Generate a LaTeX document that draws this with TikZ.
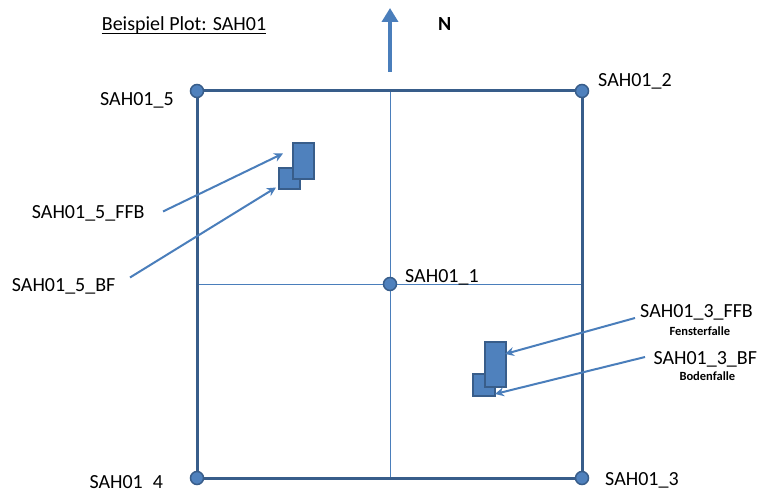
\documentclass[tikz,border=0pt]{standalone}
\usepackage{fontspec}
\setmainfont{Carlito}
\usetikzlibrary{arrows.meta}
\definecolor{ofblue}{HTML}{4F81BD}
\definecolor{ofdark}{HTML}{385D8A}
\definecolor{ofline}{HTML}{4A7EBB}
\begin{document}
\begin{tikzpicture}[x=1pt,y=-1pt,
 lbl/.style={anchor=base west,inner sep=0pt,font=\fontsize{20}{24}\selectfont},
 smalllbl/.style={anchor=base west,inner sep=0pt,font=\bfseries\fontsize{12.5}{15}\selectfont},
 frame/.style={draw=ofdark,line width=3pt},
 cross/.style={draw=ofline,line width=1pt},
 dot/.style={circle,fill=ofblue,draw=ofdark,line width=1.5pt,minimum size=13pt,inner sep=0pt},
 win/.style={fill=ofblue,draw=ofdark,line width=2pt,inner sep=0pt},
 pointer/.style={draw=ofline,line width=2pt,-{Stealth[length=9pt,width=9pt,inset=3pt]}},
 north/.style={draw=ofline,line width=4pt,-{Triangle[length=14pt,width=16pt]}}]
\useasboundingbox[fill=white] (0,0) rectangle (762,494);

% title and north
\node[lbl] (title) at (101.7,30.7) {Beispiel Plot: SAH01};
\draw[line width=1.5pt] ([yshift=-2.8pt]title.base west) -- ([yshift=-2.8pt]title.base east);
\coordinate (nfoot) at (390,72);
\coordinate (ntip) at (390,8);
\draw[north] (nfoot) -- (ntip);
\node[lbl,font=\bfseries\fontsize{20}{24}\selectfont] (n) at (438,30.7) {N};

% frame corners
\coordinate (p5) at (197,91);
\coordinate (p2) at (582,91);
\coordinate (p3) at (582,478);
\coordinate (p4) at (197,478);
\coordinate (p1) at (390,284);
\coordinate (mt) at (390,91);
\coordinate (mb) at (390,478);
\coordinate (ml) at (197,284);
\coordinate (mr) at (582,284);

\draw[cross] (mt) -- (mb);
\draw[cross] (ml) -- (mr);
\draw[frame] (p5) -- (p2) -- (p3) -- (p4) -- cycle;

\node[dot] (d5) at (p5) {};
\node[dot] (d2) at (p2) {};
\node[dot] (d3) at (p3) {};
\node[dot] (d4) at (p4) {};
\node[dot] (d1) at (p1) {};

% corner labels
\node[lbl] (l5) at (100,106) {SAH01\_5};
\node[lbl] (l2) at (598,86.5) {SAH01\_2};
\node[lbl] (l1) at (405,282) {SAH01\_1};
\node[lbl] (l3) at (605,485) {SAH01\_3};
\node[lbl] (l4) at (89.3,488.5) {SAH01\hphantom{\_}4};

% windows / floor traps
\node[win,minimum width=21pt,minimum height=21pt] (s5) at (289.5,178.5) {};
\node[win,minimum width=21pt,minimum height=36pt] (b5) at (303.5,161) {};
\node[win,minimum width=22pt,minimum height=22pt] (s3) at (484,385) {};
\node[win,minimum width=21pt,minimum height=45pt] (b3) at (495.5,364.5) {};

% labels for points
\node[lbl] (ffb5) at (31.7,218.3) {SAH01\_5\_FFB};
\node[lbl] (bf5) at (11.7,291.7) {SAH01\_5\_BF};
\node[lbl] (ffb3) at (640,317.3) {SAH01\_3\_FFB};
\node[smalllbl] (fen) at (669.3,335.7) {Fensterfalle};
\node[lbl] (bf3) at (653.3,364) {SAH01\_3\_BF};
\node[smalllbl] (bod) at (679.3,380.7) {Bodenfalle};

% pointers
\coordinate (a1s) at (163,211.5);
\coordinate (a1t) at (283,153.5);
\coordinate (a2s) at (130,277.5);
\coordinate (a2t) at (276,187.5);
\coordinate (a3s) at (635,318);
\coordinate (a3t) at (505,354);
\coordinate (a4s) at (645,357);
\coordinate (a4t) at (495,394);
\draw[pointer] (a1s) -- (a1t);
\draw[pointer] (a2s) -- (a2t);
\draw[pointer] (a3s) -- (a3t);
\draw[pointer] (a4s) -- (a4t);
\end{tikzpicture}
\end{document}
